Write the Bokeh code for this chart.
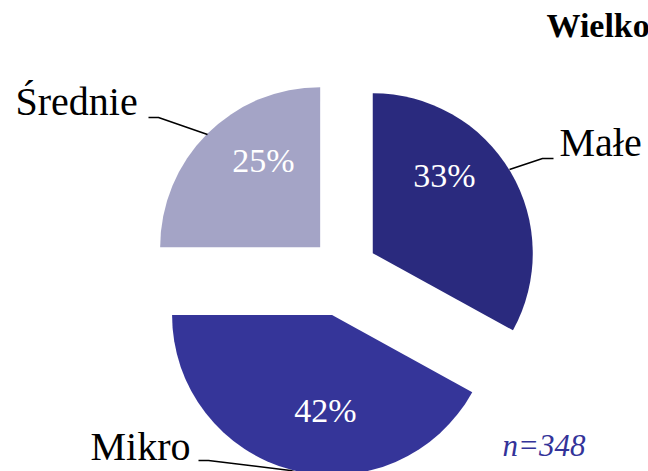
import math
from bokeh.plotting import figure
from bokeh.models import Range1d, ColumnDataSource
from bokeh.core.properties import value
from bokeh.embed import file_html
from bokeh.resources import INLINE

# ---- data ----
categories = ["Małe", "Mikro", "Średnie"]
shares = [33, 42, 25]
pct_labels = ["33%", "42%", "25%"]
colors = ["#2A2A7E", "#353599", "#A4A4C6"]
title_text = "Wielkość przedsiębiorstwa"
n_text = "n=348"

# ---- layout (page px, y down) ----
W, H = 648, 471
def px(x):
    return x
def py(y):
    return H - y

FONT = value("serif")

center = (343, 270)
radius = 160
explode = [34, 46, 33]
pct_pos = [(444, 189), (325, 424), (263, 174)]
label_pos = [(559, 158), (90, 462), (15, 117)]
leaders = [
    [(509, 169), (542, 158), (553, 158)],
    [(198, 460), (208, 460), (290, 470), (300, 473)],
    [(148, 117), (158, 117), (207, 134)],
]

p = figure(width=W, height=H, output_backend="svg", toolbar_location=None,
           x_range=Range1d(0, W), y_range=Range1d(0, H),
           x_axis_location=None, y_axis_location=None,
           min_border=0, outline_line_color=None)
p.grid.visible = False
p.background_fill_color = "white"
p.border_fill_color = "white"

total = float(sum(shares))
cum = 0.0
xs, ys, starts, ends = [], [], [], []
for v, d in zip(shares, explode):
    frac = v / total
    end_a = 90 - cum * 360
    start_a = 90 - (cum + frac) * 360
    mid = math.radians((start_a + end_a) / 2)
    cx = px(center[0]) + d * math.cos(mid)
    cy = py(center[1]) + d * math.sin(mid)
    xs.append(cx); ys.append(cy)
    starts.append(math.radians(start_a)); ends.append(math.radians(end_a))
    cum += frac

src = ColumnDataSource(dict(x=xs, y=ys, start=starts, end=ends, color=colors))
p.wedge(x="x", y="y", radius=radius, start_angle="start", end_angle="end",
        fill_color="color", line_color=None, source=src)

# percent labels
p.text(x=[px(a) for a, b in pct_pos], y=[py(b - 14) for a, b in pct_pos], text=pct_labels,
       text_font=FONT, text_font_size="34px", text_color="white",
       text_align="center", text_baseline="alphabetic")

# category labels
p.text(x=[px(a) for a, b in label_pos], y=[py(b - 16) for a, b in label_pos], text=categories,
       text_font=FONT, text_font_size="40px", text_color="black",
       text_align="left", text_baseline="alphabetic")

# leader lines
p.multi_line(xs=[[px(a) for a, b in L] for L in leaders],
             ys=[[py(b) for a, b in L] for L in leaders],
             line_color="black", line_width=1.5)

# n
p.text(x=[px(502)], y=[py(457 - 12)], text=[n_text],
       text_font=FONT, text_font_size="31px", text_font_style="italic",
       text_color="#333399", text_align="left", text_baseline="alphabetic")

# title (cut at right edge as in the reference)
p.text(x=[px(546)], y=[py(37 - 12)], text=[title_text],
       text_font=FONT, text_font_size="34px", text_font_style="bold",
       text_color="black", text_align="left", text_baseline="alphabetic")

open("out.html", "w").write(file_html(p, INLINE))
